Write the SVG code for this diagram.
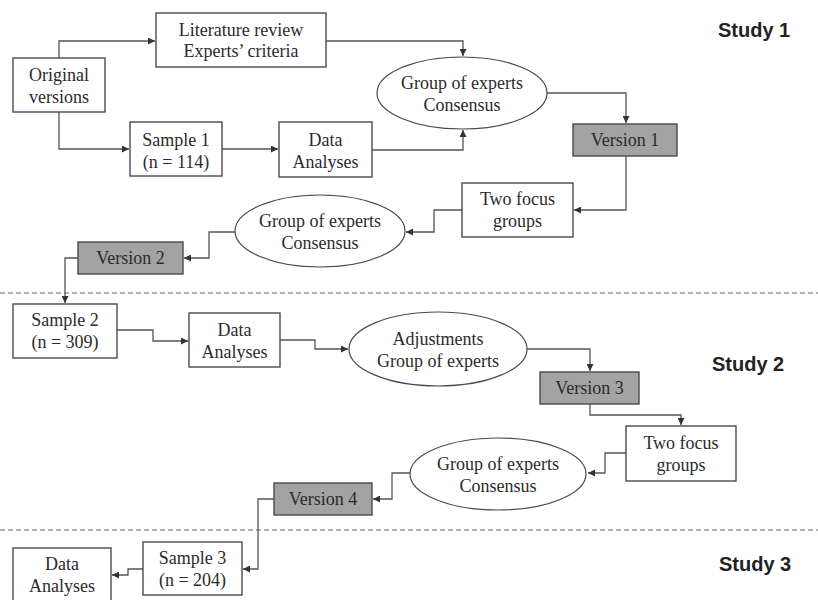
<svg xmlns="http://www.w3.org/2000/svg" width="818" height="600" viewBox="0 0 818 600">
<defs>
<marker id="arr" markerUnits="userSpaceOnUse" markerWidth="8" markerHeight="7" refX="7" refY="3.5" orient="auto">
<path d="M0,0 L7,3.5 L0,7 z" fill="#333"/>
</marker>
<style>
.box{fill:#fff;stroke:#4a4a4a;stroke-width:1.4}
.ver{fill:#a3a3a3;stroke:#4a4a4a;stroke-width:1.4}
.ell{fill:#fff;stroke:#4a4a4a;stroke-width:1.2}
.t{font-family:"Liberation Serif","Times New Roman",serif;font-size:18px;fill:#2b2b2b;text-anchor:middle}
.st{font-family:"Liberation Sans",Arial,sans-serif;font-size:20px;font-weight:bold;fill:#222}
.c path{fill:none;stroke:#555;stroke-width:1.3;marker-end:url(#arr)}
.dash{stroke:#666;stroke-width:1.2;stroke-dasharray:5 3}
</style>
</defs>
<rect width="818" height="600" fill="#fff"/>
<line class="dash" x1="0" y1="293" x2="818" y2="293"/>
<line class="dash" x1="0" y1="530" x2="818" y2="530"/>
<text class="st" x="718" y="37">Study 1</text>
<text class="st" x="712" y="371">Study 2</text>
<text class="st" x="719" y="571">Study 3</text>
<g class="c" id="connectors">
<path d="M59,58 V41 H155"/>
<path d="M59,112 V149 H129"/>
<path d="M326,41 H463 V56"/>
<path d="M222,149 H278"/>
<path d="M372,150 H463 V130"/>
<path d="M547,93 H626 V123"/>
<path d="M626,156 V210 H574"/>
<path d="M462,210 H434 V232 H406"/>
<path d="M235,232 H209 V258 H184"/>
<path d="M78,258 H65 V303"/>
<path d="M117,330 H153 V341 H188"/>
<path d="M280,340 H315 V349 H348"/>
<path d="M527,349 H590 V371"/>
<path d="M590,404 V415 H681 V425"/>
<path d="M626,453 H605 V473 H588"/>
<path d="M410,473 H392 V499 H373"/>
<path d="M274,499 H258 V569 H243"/>
<path d="M143,569 H128 V575 H112"/>
</g>
<g id="original"><rect class="box" x="13" y="58" width="92" height="54"/><text class="t" x="59" y="81">Original</text><text class="t" x="59" y="103">versions</text></g>
<g id="literature"><rect class="box" x="156" y="13" width="170" height="54"/><text class="t" x="241" y="36">Literature review</text><text class="t" x="241" y="57">Experts’ criteria</text></g>
<g id="sample1"><rect class="box" x="130" y="122" width="92" height="54"/><text class="t" x="176" y="146">Sample 1</text><text class="t" x="176" y="168">(n = 114)</text></g>
<g id="data1"><rect class="box" x="279" y="122" width="93" height="55"/><text class="t" x="325.5" y="146">Data</text><text class="t" x="325.5" y="168">Analyses</text></g>
<g id="experts1"><ellipse class="ell" cx="462" cy="93" rx="85" ry="36"/><text class="t" x="462" y="89">Group of experts</text><text class="t" x="462" y="111">Consensus</text></g>
<g id="version1"><rect class="ver" x="573" y="124" width="104" height="32"/><text class="t" x="625" y="146">Version 1</text></g>
<g id="focus1"><rect class="box" x="462" y="183" width="111" height="54"/><text class="t" x="517.5" y="205">Two focus</text><text class="t" x="517.5" y="227">groups</text></g>
<g id="experts2"><ellipse class="ell" cx="320" cy="231" rx="85" ry="36"/><text class="t" x="320" y="227">Group of experts</text><text class="t" x="320" y="249">Consensus</text></g>
<g id="version2"><rect class="ver" x="78" y="242" width="105" height="32"/><text class="t" x="130.5" y="264">Version 2</text></g>
<g id="sample2"><rect class="box" x="13" y="304" width="104" height="54"/><text class="t" x="65" y="326">Sample 2</text><text class="t" x="65" y="348">(n = 309)</text></g>
<g id="data2"><rect class="box" x="189" y="313" width="91" height="54"/><text class="t" x="234.5" y="336">Data</text><text class="t" x="234.5" y="358">Analyses</text></g>
<g id="adjust"><ellipse class="ell" cx="438" cy="349" rx="89" ry="37"/><text class="t" x="438" y="345">Adjustments</text><text class="t" x="438" y="367">Group of experts</text></g>
<g id="version3"><rect class="ver" x="540" y="372" width="99" height="32"/><text class="t" x="589.5" y="394">Version 3</text></g>
<g id="focus2"><rect class="box" x="626" y="426" width="110" height="55"/><text class="t" x="681" y="449">Two focus</text><text class="t" x="681" y="471">groups</text></g>
<g id="experts3"><ellipse class="ell" cx="498" cy="474" rx="88" ry="36"/><text class="t" x="498" y="470">Group of experts</text><text class="t" x="498" y="492">Consensus</text></g>
<g id="version4"><rect class="ver" x="274" y="483" width="98" height="32"/><text class="t" x="323" y="505">Version 4</text></g>
<g id="sample3"><rect class="box" x="143" y="542" width="99" height="53"/><text class="t" x="192.5" y="564">Sample 3</text><text class="t" x="192.5" y="586">(n = 204)</text></g>
<g id="data3"><rect class="box" x="13" y="548" width="98" height="60"/><text class="t" x="62" y="570">Data</text><text class="t" x="62" y="592">Analyses</text></g>
</svg>
